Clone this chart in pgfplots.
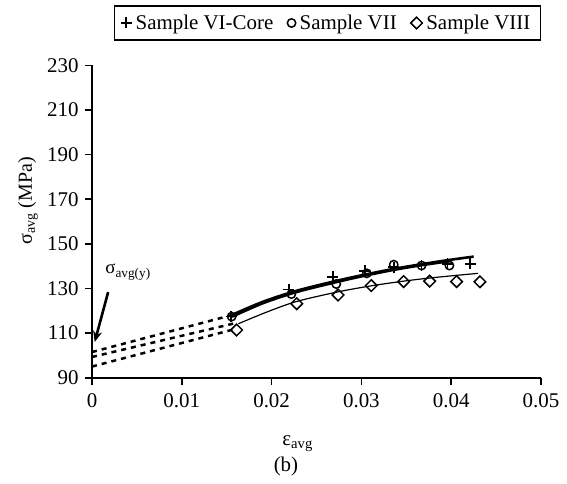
\documentclass[border=0pt]{standalone}
\usepackage{fontspec}
\setmainfont{Liberation Serif}
\usepackage{pgfplots}
\pgfplotsset{compat=1.18}
\usetikzlibrary{arrows.meta}
\begin{document}
\begin{tikzpicture}
\path[use as bounding box] (-92bp,-106.3bp) rectangle ++(567bp,484bp);
\begin{axis}[
  scale only axis, width=449bp, height=312.2bp,
  xmin=0, xmax=0.05, ymin=90, ymax=230,
  axis lines*=left,
  axis line style={line width=1.6bp},
  tick style={line width=1.6bp, black},
  tick align=outside, major tick length=7bp,
  xtick={0,0.01,0.02,0.03,0.04,0.05},
  xticklabels={0,0.01,0.02,0.03,0.04,0.05},
  ytick={90,110,...,230},
  scaled x ticks=false,
  /pgf/number format/assume math mode=true,
  tick label style={font=\fontsize{21}{24}\selectfont},
  xticklabel style={yshift=-5bp},
  yticklabel style={xshift=-3bp},
  clip=false,
  xlabel={ε\textsubscript{avg}},
  ylabel={σ\textsubscript{avg} (MPa)},
  every axis x label/.style={at={(rel axis cs:0.458,0)}, yshift=-66bp, anchor=center, font=\fontsize{21}{24}\selectfont},
  every axis y label/.style={at={(rel axis cs:0,0.566)}, xshift=-64bp, rotate=90, anchor=center, font=\fontsize{20}{23}\selectfont},
  legend columns=3,
  legend style={draw=black, line width=1.5bp, at={(rel axis cs:0.5245,1.193)}, anchor=north,
    font=\fontsize{21}{24}\selectfont, inner xsep=6bp, inner ysep=7bp,
    /tikz/every even column/.append style={column sep=10bp},
    nodes={inner xsep=4bp}},
  legend cell align=left,
  legend image code/.code={\draw[#1] plot coordinates {(0.2cm,0cm)};},
]
% extrapolated dashed lines
\addplot[forget plot, black, line width=2.5bp, dash pattern=on 5bp off 5bp] coordinates {(0,101.5) (0.0155,118)};
\addplot[forget plot, black, line width=2.5bp, dash pattern=on 5bp off 5bp] coordinates {(0,99.3) (0.016,114.5)};
\addplot[forget plot, black, line width=2.5bp, dash pattern=on 5bp off 5bp] coordinates {(0,95) (0.0161,112)};
% fitted curves
\addplot[forget plot, black, line width=2.6bp, smooth] coordinates {
(0.0155,118) (0.019,124) (0.0228,129) (0.0274,133.6) (0.0306,136.4) (0.0336,138.8) (0.0367,140.9) (0.0396,142.7) (0.0425,144.3)};
\addplot[forget plot, black, line width=2.4bp, smooth] coordinates {
(0.0156,117.3) (0.019,123.3) (0.0228,128.4) (0.0274,133) (0.0306,135.9) (0.0336,138.3) (0.0367,140.4) (0.0400,142.3)};
\addplot[forget plot, black, line width=1.2bp, smooth] coordinates {
(0.0163,114.2) (0.0195,119.5) (0.0228,124.2) (0.0274,128.5) (0.0311,131.2) (0.0347,133.3) (0.0376,134.7) (0.0406,135.9) (0.0430,136.8)};
% data markers
\addplot[only marks, black, mark=+, mark size=5.5bp, mark options={line width=1.7bp}] coordinates {
(0.0155,117.4) (0.0219,129.5) (0.0268,135.3) (0.0304,138.0) (0.0336,139.5) (0.0367,140.5) (0.0396,141.0) (0.0421,141.0)};
\addlegendentry{Sample VI-Core}
\addplot[only marks, black, mark=o, mark size=4.2bp, mark options={line width=1.5bp}] coordinates {
(0.01555,117.4) (0.0222,127.5) (0.0272,132) (0.0306,136.8) (0.0336,140.7) (0.0367,140.3) (0.0398,140.3)};
\addlegendentry{Sample VII}
\addplot[only marks, black, mark=square, mark size=4.1bp, mark options={line width=1.5bp, rotate=45, fill=white}] coordinates {
(0.0161,111.4) (0.0228,123.2) (0.0274,127.1) (0.0311,131.3) (0.0347,133.1) (0.0376,133.3) (0.0406,133.1) (0.0432,133.0)};
\addlegendentry{Sample VIII}
% annotation
\draw[-{Stealth[length=11bp,width=9bp]}, line width=2.6bp] (axis cs:0.0018,128.4) -- (axis cs:0.0003,106);
\node[anchor=west, font=\fontsize{19}{22}\selectfont] at (axis cs:0.0011,137.4) {σ\textsubscript{avg(y)}};
\node[font=\fontsize{21}{24}\selectfont] at ([yshift=-89bp]rel axis cs:0.432,0) {(b)};
\end{axis}
\end{tikzpicture}
\end{document}
